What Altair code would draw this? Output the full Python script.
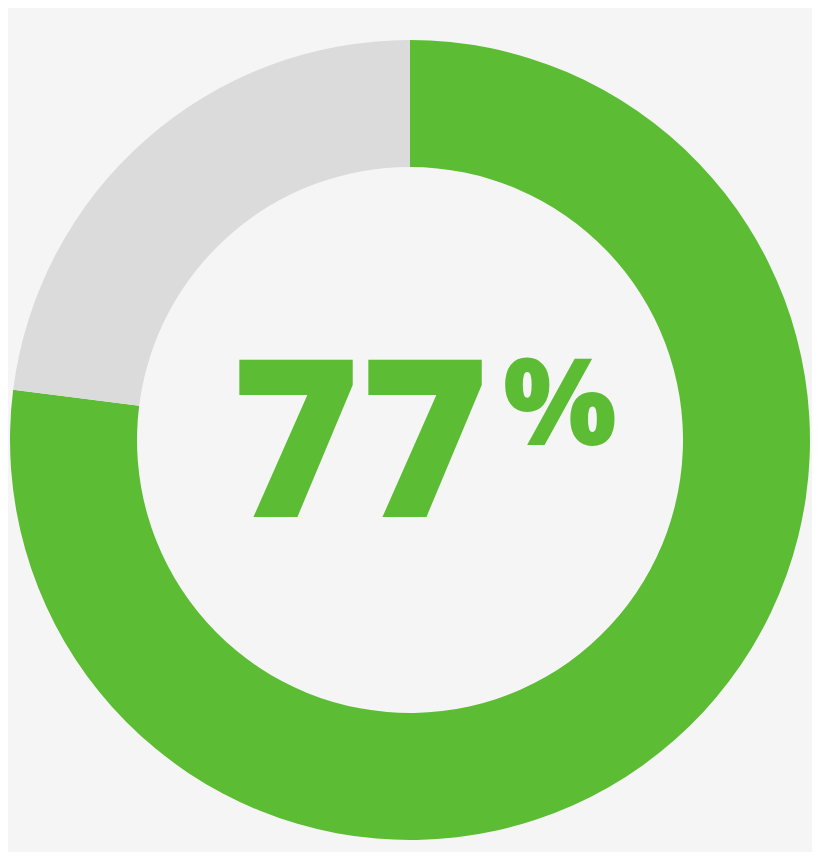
import altair as alt
import pandas as pd

segments = ["Done", "Remaining"]
shares = [77, 23]
seg_colors = ["#5cbc33", "#dbdbdb"]
big_label = ["77"]
small_label = ["%"]

df = pd.DataFrame({"segment": segments, "share": shares, "order": [0, 1]})

donut = (
    alt.Chart(df)
    .mark_arc(outerRadius=400, innerRadius=273)
    .encode(
        theta=alt.Theta("share:Q", stack=True),
        order=alt.Order("order:Q"),
        color=alt.Color(
            "segment:N",
            scale=alt.Scale(domain=segments, range=seg_colors),
            legend=None,
        ),
        x=alt.value(402),
        y=alt.value(432),
    )
)

number = (
    alt.Chart(pd.DataFrame({"t": big_label}))
    .mark_text(
        font="Open Sans", fontWeight=800, fontSize=220, color="#5cbc33",
        align="left", baseline="alphabetic",
    )
    .encode(text="t:N", x=alt.value(223), y=alt.value(509))
)

percent = (
    alt.Chart(pd.DataFrame({"t": small_label}))
    .mark_text(
        font="Open Sans", fontWeight=800, fontSize=120, color="#5cbc33",
        align="left", baseline="alphabetic",
    )
    .encode(text="t:N", x=alt.value(495), y=alt.value(437))
)

chart = (
    alt.layer(donut, number, percent)
    .properties(width=804, height=844, padding=0, background="#f5f5f5")
    .configure_view(stroke=None)
)

chart.save("out.html", embed_options={"renderer": "svg", "actions": False})
